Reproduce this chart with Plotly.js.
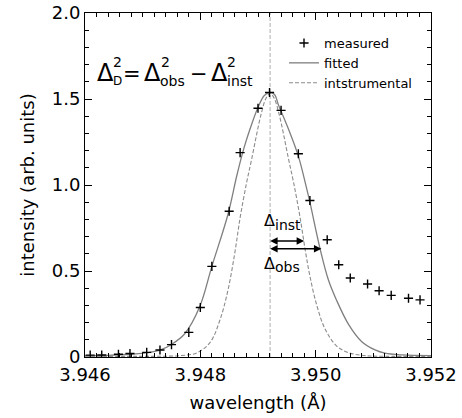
<!DOCTYPE html>
<html>
<head>
<meta charset="utf-8">
<script src="https://cdn.plot.ly/plotly-3.0.1.min.js"></script>
<style>html,body{margin:0;padding:0;background:#fff;}#chart{width:462px;height:418px;}</style>
</head>
<body>
<div id="chart"></div>
<script>
// ---------- data ----------
const centerWavelength = [3.94921];

const measuredX = [3.94609, 3.94629, 3.94658, 3.94678, 3.94707, 3.94730, 3.94750, 3.94780,
                   3.94800, 3.94820, 3.94850, 3.94869, 3.94900, 3.94920, 3.94940, 3.94970,
                   3.94990, 3.95020, 3.95040, 3.95060, 3.95090, 3.95110, 3.95131, 3.95161, 3.95181];
const measuredY = [0.011, 0.012, 0.016, 0.020, 0.027, 0.041, 0.072, 0.143,
                   0.288, 0.527, 0.847, 1.188, 1.446, 1.538, 1.434, 1.182,
                   0.910, 0.682, 0.536, 0.459, 0.424, 0.385, 0.358, 0.342, 0.332];

const fittedX = [3.94600, 3.94640, 3.94680, 3.94710, 3.94730, 3.94750, 3.94773, 3.94799,
                 3.94820, 3.94848, 3.94863, 3.94875, 3.94886, 3.94901, 3.94911, 3.94921,
                 3.94929, 3.94935, 3.94953, 3.94970, 3.94984, 3.94990, 3.95008, 3.95022,
                 3.95036, 3.95057, 3.95080, 3.95103, 3.95120, 3.95150, 3.95200];
const fittedY = [0.008, 0.010, 0.016, 0.025, 0.040, 0.073, 0.135, 0.293,
                 0.527, 0.830, 1.051, 1.207, 1.324, 1.459, 1.520, 1.538,
                 1.525, 1.470, 1.324, 1.168, 0.985, 0.900, 0.624, 0.449,
                 0.332, 0.190, 0.089, 0.041, 0.022, 0.012, 0.008];

const instX = [3.94600, 3.94720, 3.94765, 3.94794, 3.94817, 3.94834, 3.94848, 3.94860,
               3.94869, 3.94880, 3.94889, 3.94898, 3.94906, 3.94914, 3.94921, 3.94928,
               3.94936, 3.94944, 3.94953, 3.94962, 3.94973, 3.94982, 3.94990, 3.95002,
               3.95016, 3.95036, 3.95057, 3.95086, 3.95120, 3.95200];
const instY = [0.004, 0.004, 0.008, 0.024, 0.085, 0.215, 0.390, 0.610,
               0.810, 1.010, 1.150, 1.300, 1.420, 1.505, 1.533, 1.505,
               1.420, 1.300, 1.150, 1.010, 0.810, 0.620, 0.470, 0.300,
               0.165, 0.065, 0.025, 0.008, 0.004, 0.004];

const xTickVals = [3.946, 3.948, 3.950, 3.952];
const xTickText = ['3.946', '3.948', '3.950', '3.952'];
const yTickVals = [0, 0.5, 1.0, 1.5, 2.0];
const yTickText = ['0', '0.5', '1.0', '1.5', '2.0'];

const seriesNames = ['measured', 'fitted', 'intstrumental'];
const arrowY = [0.675, 0.630];          // Δinst, Δobs
const arrowEndX = [3.94980, 3.95010];   // Δinst, Δobs

// ---------- layout helpers ----------
const W = 462, H = 418;
const M = {l: 85, r: 31, t: 13, b: 61};
const PW = W - M.l - M.r, PH = H - M.t - M.b;
const FONT = 'DejaVu Sans, Arial, sans-serif';

function textTok(t, left, base, size) {
  return {
    text: t, xref: 'paper', yref: 'paper',
    x: (left - M.l) / PW,
    y: (H - M.b - (base - 0.346 * size)) / PH,
    xanchor: 'left', yanchor: 'middle',
    showarrow: false, borderpad: 0, borderwidth: 0,
    font: {family: FONT, size: size, color: '#000'}
  };
}

const annotations = [
  // formula  Δ²_D = Δ²_obs − Δ²_inst
  textTok('Δ', 96.5, 81.7, 24),
  textTok('2', 113, 66.7, 14),
  textTok('D', 113, 85.5, 12),
  textTok('=', 123, 81.7, 21),
  textTok('Δ', 144, 81.7, 24),
  textTok('2', 160.5, 66.7, 14),
  textTok('obs', 160, 85.5, 14),
  textTok('\u2212', 189.5, 81.7, 21),
  textTok('Δ', 210.5, 81.7, 24),
  textTok('2', 227, 66.7, 14),
  textTok('inst', 226.5, 85.5, 14),
  // width labels
  textTok('Δ', 263.5, 226.5, 16),
  textTok('inst', 274.5, 230, 14),
  textTok('Δ', 263.5, 269, 16),
  textTok('obs', 274.5, 271.5, 14)
];

// double-headed arrows
for (let i = 0; i < arrowY.length; i++) {
  annotations.push({
    x: arrowEndX[i], y: arrowY[i], xref: 'x', yref: 'y',
    ax: centerWavelength[0], ay: arrowY[i], axref: 'x', ayref: 'y',
    text: '', showarrow: true, arrowside: 'end+start',
    arrowhead: 2, arrowsize: 1.0, arrowwidth: 1.5, arrowcolor: '#000',
    standoff: 0, startstandoff: 0, borderpad: 0, borderwidth: 0
  });
}

const traces = [
  {
    x: fittedX, y: fittedY, name: seriesNames[1], type: 'scatter', mode: 'lines',
    line: {color: '#7f7f7f', width: 1.3, shape: 'spline', smoothing: 1.0},
    legendrank: 2
  },
  {
    x: instX, y: instY, name: seriesNames[2], type: 'scatter', mode: 'lines',
    line: {color: '#8c8c8c', width: 1.1, dash: '4px,2px', shape: 'spline', smoothing: 1.0},
    legendrank: 3
  },
  {
    x: measuredX, y: measuredY, name: seriesNames[0], type: 'scatter', mode: 'markers',
    marker: {symbol: 'cross-thin', size: 6.5, color: '#000', line: {color: '#000', width: 1.4}},
    legendrank: 1
  }
];

const axisCommon = {
  showline: true, linecolor: '#000', linewidth: 1, mirror: 'allticks',
  ticks: 'inside', ticklen: 7, tickwidth: 1, tickcolor: '#000',
  showgrid: false, zeroline: false,
  tickfont: {family: FONT, size: 18, color: '#000'},
  tickmode: 'array'
};

const layout = {
  width: W, height: H,
  margin: M,
  paper_bgcolor: '#fff', plot_bgcolor: '#fff',
  font: {family: FONT, color: '#000'},
  showlegend: true,
  legend: {
    x: (284 - M.l) / PW, y: (H - M.b - 28) / PH, xanchor: 'left', yanchor: 'top',
    bgcolor: 'rgba(0,0,0,0)', borderwidth: 0,
    font: {family: FONT, size: 13, color: '#000'},
    tracegroupgap: 0
  },
  xaxis: Object.assign({}, axisCommon, {
    range: [3.946, 3.952],
    tickvals: xTickVals, ticktext: xTickText,
    ticklabelstandoff: 1,
    minor: {dtick: 0.0002, tick0: 3.946, ticks: 'inside', ticklen: 4, tickcolor: '#000', tickwidth: 1},
    title: {text: 'wavelength (Å)', font: {family: FONT, size: 18, color: '#000'}, standoff: 12}
  }),
  yaxis: Object.assign({}, axisCommon, {
    range: [0, 2.0],
    tickvals: yTickVals, ticktext: yTickText,
    minor: {dtick: 0.1, tick0: 0, ticks: 'inside', ticklen: 4, tickcolor: '#000', tickwidth: 1},
    title: {text: 'intensity (arb. units)', font: {family: FONT, size: 18, color: '#000'}, standoff: 12}
  }),
  shapes: [{
    type: 'line', xref: 'x', yref: 'paper',
    x0: centerWavelength[0], x1: centerWavelength[0], y0: 0, y1: 1,
    line: {color: '#b5b5b5', width: 1.1, dash: '4px,2px'}, layer: 'below'
  }],
  annotations: annotations
};

Plotly.newPlot('chart', traces, layout, {displayModeBar: false, staticPlot: true});
</script>
</body>
</html>
